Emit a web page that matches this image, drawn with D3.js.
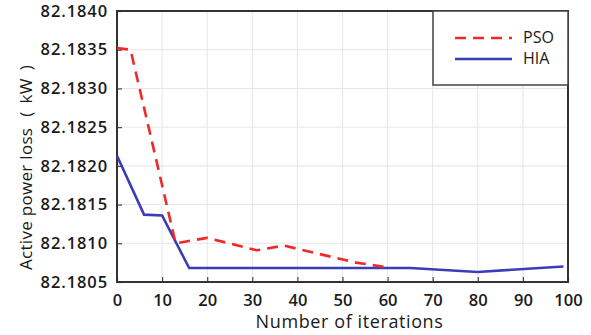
<!DOCTYPE html>
<html>
<head>
<meta charset="utf-8">
<script src="https://cdn.jsdelivr.net/npm/d3@7"></script>
<style>
  body { margin: 0; background: #fff; }
  text { font-family: "Open Sans", "Noto Sans", sans-serif; fill: #1a1a1a; }
</style>
</head>
<body>
<div id="chart"></div>
<script>
const psoIter = [0, 3, 13, 20, 31, 37, 53, 60];
const psoLoss = [82.18352, 82.18350, 82.18100, 82.18107, 82.18091, 82.18097, 82.18075, 82.18069];
const hiaIter = [0, 6, 10, 16, 65, 80, 99];
const hiaLoss = [82.18213, 82.18137, 82.18136, 82.18068, 82.18068, 82.18063, 82.18070];
const xTicks = [0, 10, 20, 30, 40, 50, 60, 70, 80, 90, 100];
const yTicks = [82.1805, 82.1810, 82.1815, 82.1820, 82.1825, 82.1830, 82.1835, 82.1840];

const width = 591, height = 335;
const margin = { top: 11, right: 23, bottom: 53, left: 117 };

const svg = d3.select("#chart").append("svg")
    .attr("width", width)
    .attr("height", height);

const x = d3.scaleLinear().domain([0, 100]).range([margin.left, width - margin.right]);
const y = d3.scaleLinear().domain([82.1805, 82.1840]).range([height - margin.bottom, margin.top]);

// grid
svg.append("g")
    .selectAll("line.vg")
    .data(xTicks.slice(1, -1))
    .enter().append("line")
    .attr("x1", d => x(d)).attr("x2", d => x(d))
    .attr("y1", y.range()[1]).attr("y2", y.range()[0])
    .attr("stroke", "#e6e6e6").attr("stroke-width", 1);
svg.append("g")
    .selectAll("line.hg")
    .data(yTicks.slice(1, -1))
    .enter().append("line")
    .attr("x1", x.range()[0]).attr("x2", x.range()[1])
    .attr("y1", d => y(d)).attr("y2", d => y(d))
    .attr("stroke", "#e6e6e6").attr("stroke-width", 1);

// axes (ticks inward)
const xAxis = svg.append("g")
    .attr("transform", `translate(0,${y.range()[0]})`)
    .call(d3.axisBottom(x).tickValues(xTicks).tickSize(-5).tickPadding(12).tickFormat(d3.format("d")));
const yAxis = svg.append("g")
    .attr("transform", `translate(${x.range()[0]},0)`)
    .call(d3.axisLeft(y).tickValues(yTicks).tickSize(-5).tickPadding(9).tickFormat(d3.format(".4f")));
[xAxis, yAxis].forEach(a => {
    a.select(".domain").remove();
    a.selectAll(".tick line").attr("stroke", "#444").attr("stroke-width", 1.2);
    a.selectAll("text").style("font-size", "16.5px").style("font-weight", "600").attr("fill", "#1a1a1a");
});
yAxis.selectAll("text").style("letter-spacing", "0.9px");

// frame
svg.append("rect")
    .attr("x", x.range()[0]).attr("y", y.range()[1])
    .attr("width", x.range()[1] - x.range()[0])
    .attr("height", y.range()[0] - y.range()[1])
    .attr("fill", "none").attr("stroke", "#333").attr("stroke-width", 2);

const line = d3.line().x(d => x(d[0])).y(d => y(d[1]));

svg.append("path")
    .datum(hiaIter.map((d, i) => [d, hiaLoss[i]]))
    .attr("d", line)
    .attr("fill", "none").attr("stroke", "#3a3db5").attr("stroke-width", 2.6);

svg.append("path")
    .datum(psoIter.map((d, i) => [d, psoLoss[i]]))
    .attr("d", line)
    .attr("fill", "none").attr("stroke", "#f0282a").attr("stroke-width", 2.6)
    .attr("stroke-dasharray", "11,7");

// legend
const lg = svg.append("g");
lg.append("rect")
    .attr("x", 433).attr("y", y.range()[1])
    .attr("width", x.range()[1] - 433).attr("height", 74)
    .attr("fill", "#fff").attr("stroke", "#444").attr("stroke-width", 1.5);
const legendItems = [
    { name: "PSO", color: "#f0282a", dash: "11,7", yy: 38 },
    { name: "HIA", color: "#3a3db5", dash: null, yy: 59 }
];
legendItems.forEach(it => {
    lg.append("line")
        .attr("x1", 455).attr("x2", 512)
        .attr("y1", it.yy).attr("y2", it.yy)
        .attr("stroke", it.color).attr("stroke-width", 2.6)
        .attr("stroke-dasharray", it.dash);
    lg.append("text")
        .attr("x", 523).attr("y", it.yy + 5)
        .style("font-size", "16px")
        .text(it.name);
});

// axis titles
svg.append("text")
    .attr("x", (x.range()[0] + x.range()[1]) / 2 + 7)
    .attr("y", 328)
    .attr("text-anchor", "middle")
    .style("font-size", "18px")
    .style("letter-spacing", "0.6px")
    .text("Number of iterations");
const yt = svg.append("text")
    .attr("transform", "translate(32,270) rotate(-90)")
    .attr("text-anchor", "start")
    .style("font-size", "17px")
    .style("letter-spacing", "0.3px");
yt.append("tspan").text("Active power loss");
yt.append("tspan").attr("dx", 11).text("(");
yt.append("tspan").attr("dx", 8).text("kW");
yt.append("tspan").attr("dx", 8).text(")");
</script>
</body>
</html>
